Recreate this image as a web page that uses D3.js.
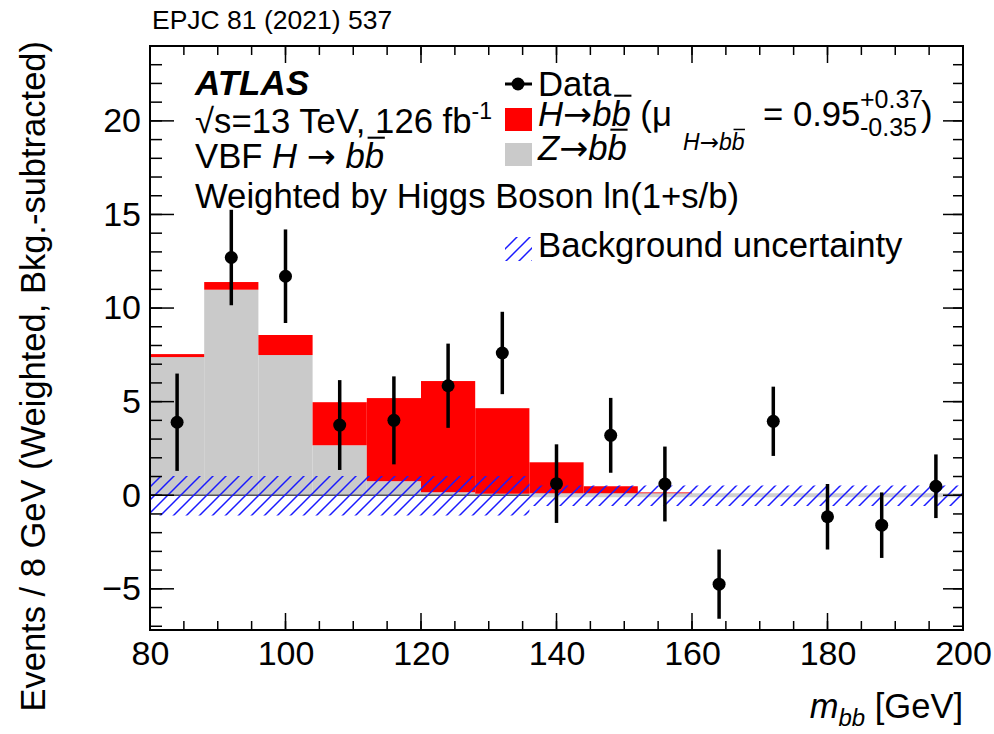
<!DOCTYPE html>
<html>
<head>
<meta charset="utf-8">
<script src="https://cdn.jsdelivr.net/npm/d3@7"></script>
<style>
  body { margin: 0; background: #fff; }
  text { font-family: "Liberation Sans", Arial, Helvetica, sans-serif; fill: #000; }
  .arrow { font-family: "DejaVu Sans", sans-serif; }
</style>
</head>
<body>
<svg id="chart" width="994" height="734"></svg>
<script>
// Binning of the m_bb distribution (8 GeV bins from 80 to 200 GeV)
const binEdges = [80, 88, 96, 104, 112, 120, 128, 136, 144, 152, 160, 168, 176, 184, 192, 200];

// Z -> bb contribution per bin (weighted events)
const zbbValues = [7.38, 10.98, 7.49, 2.67, 0.75, 0.16, 0.08, 0.05, 0.03, 0.02, 0, 0, 0, 0, 0];
// H -> bb contribution per bin, stacked on top of Z -> bb
const hbbValues = [0.16, 0.41, 1.07, 2.30, 4.44, 5.94, 4.57, 1.71, 0.45, 0.13, 0, 0, 0, 0, 0];

// Background uncertainty band (upper / lower edge per bin)
const bkgUncUp   = [1.03, 1.03, 1.03, 1.03, 1.03, 1.03, 1.03, 0.52, 0.52, 0.52, 0.52, 0.52, 0.52, 0.52, 0.52];
const bkgUncDown = [-1.08, -1.08, -1.08, -1.08, -1.08, -1.08, -1.08, -0.58, -0.58, -0.58, -0.58, -0.58, -0.58, -0.58, -0.58];

// Data (background-subtracted, weighted) with symmetric errors
const dataX   = [84, 92, 100, 108, 116, 124, 132, 140, 148, 156, 164, 172, 180, 188, 196];
const dataY   = [3.9, 12.7, 11.7, 3.75, 4.0, 5.85, 7.6, 0.62, 3.2, 0.6, -4.75, 3.95, -1.15, -1.6, 0.48];
const dataErr = [2.6, 2.55, 2.5, 2.4, 2.35, 2.25, 2.2, 2.1, 2.0, 2.0, 1.85, 1.85, 1.75, 1.75, 1.7];

// Axis ranges and ticks
const xDomain = [80, 200];
const yDomain = [-7.2, 24];
const xMajorTicks = [80, 100, 120, 140, 160, 180, 200];
const yMajorTicks = [-5, 0, 5, 10, 15, 20];

// Reference line at zero: dark part under the Z template, light part beyond
const zeroLineDark = [80, 136];
const zeroLineLight = [136, 200];

const svg = d3.select("#chart");
const plot = { left: 150, right: 963, top: 46, bottom: 630 };

const x = d3.scaleLinear().domain(xDomain).range([plot.left, plot.right]);
const y = d3.scaleLinear().domain(yDomain).range([plot.bottom, plot.top]);

const defs = svg.append("defs");
const hatch = defs.append("pattern")
  .attr("id", "hatch")
  .attr("patternUnits", "userSpaceOnUse")
  .attr("width", 13).attr("height", 13);
hatch.append("path")
  .attr("d", "M-3,3 L3,-3 M0,13 L13,0 M10,16 L16,10")
  .attr("stroke", "#1a1aff").attr("stroke-width", 1.5);

defs.append("clipPath").attr("id", "plotClip")
  .append("rect")
  .attr("x", plot.left).attr("y", plot.top)
  .attr("width", plot.right - plot.left).attr("height", plot.bottom - plot.top);

const g = svg.append("g").attr("clip-path", "url(#plotClip)");

// Build per-bin records
const bins = binEdges.slice(0, -1).map((lo, i) => ({
  lo, hi: binEdges[i + 1],
  z: zbbValues[i], h: hbbValues[i],
  up: bkgUncUp[i], down: bkgUncDown[i]
}));

// Z -> bb (grey) histogram
g.selectAll("rect.zbb").data(bins.filter(d => d.z > 0)).join("rect")
  .attr("class", "zbb")
  .attr("x", d => x(d.lo)).attr("width", d => x(d.hi) - x(d.lo))
  .attr("y", d => y(d.z)).attr("height", d => y(0) - y(d.z))
  .attr("fill", "#cacaca");

// H -> bb (red) stacked on Z -> bb
g.selectAll("rect.hbb").data(bins.filter(d => d.h > 0)).join("rect")
  .attr("class", "hbb")
  .attr("x", d => x(d.lo)).attr("width", d => x(d.hi) - x(d.lo))
  .attr("y", d => y(d.z + d.h)).attr("height", d => y(d.z) - y(d.z + d.h))
  .attr("fill", "#ff0000");

// Zero reference lines
g.append("line")
  .attr("x1", x(zeroLineLight[0])).attr("x2", x(zeroLineLight[1]))
  .attr("y1", y(0)).attr("y2", y(0))
  .attr("stroke", "#cfcfcf").attr("stroke-width", 4);
g.append("line")
  .attr("x1", x(zeroLineDark[0])).attr("x2", x(zeroLineDark[1]))
  .attr("y1", y(0)).attr("y2", y(0))
  .attr("stroke", "#555").attr("stroke-width", 1.5);

// Background uncertainty band
const bandArea = d3.area()
  .curve(d3.curveStepAfter)
  .x(d => x(d.x)).y0(d => y(d.down)).y1(d => y(d.up));
const bandPts = bins.map(d => ({ x: d.lo, up: d.up, down: d.down }));
bandPts.push({ x: binEdges[binEdges.length - 1], up: bins[bins.length - 1].up, down: bins[bins.length - 1].down });
g.append("path").datum(bandPts)
  .attr("d", bandArea)
  .attr("fill", "url(#hatch)");

// Data points with error bars
const pts = dataX.map((v, i) => ({ x: v, y: dataY[i], e: dataErr[i] }));
g.selectAll("line.err").data(pts).join("line")
  .attr("class", "err")
  .attr("x1", d => x(d.x)).attr("x2", d => x(d.x))
  .attr("y1", d => y(d.y - d.e)).attr("y2", d => y(d.y + d.e))
  .attr("stroke", "#000").attr("stroke-width", 3.5);
g.selectAll("circle.pt").data(pts).join("circle")
  .attr("class", "pt")
  .attr("cx", d => x(d.x)).attr("cy", d => y(d.y)).attr("r", 6.5)
  .attr("fill", "#000");

// Axes with inward ticks on all four sides
const tickFont = 34;
const xMinor = d3.range(80, 201, 5);
const yMinor = d3.range(-7, 25, 1);

function drawTicks(sel, vals, orient, len) {
  const horiz = orient === "b" || orient === "t";
  sel.selectAll(null).data(vals).join("line")
    .attr("x1", d => horiz ? x(d) : (orient === "l" ? plot.left : plot.right))
    .attr("x2", d => horiz ? x(d) : (orient === "l" ? plot.left + len : plot.right - len))
    .attr("y1", d => horiz ? (orient === "b" ? plot.bottom : plot.top) : y(d))
    .attr("y2", d => horiz ? (orient === "b" ? plot.bottom - len : plot.top + len) : y(d))
    .attr("stroke", "#000").attr("stroke-width", 1.5);
}
const ticks = svg.append("g");
drawTicks(ticks, xMinor, "b", 9);
drawTicks(ticks, xMajorTicks, "b", 17);
drawTicks(ticks, xMinor, "t", 9);
drawTicks(ticks, xMajorTicks, "t", 17);
drawTicks(ticks, yMinor, "l", 12);
drawTicks(ticks, yMajorTicks, "l", 24);
drawTicks(ticks, yMinor, "r", 10);
drawTicks(ticks, yMajorTicks, "r", 20);

// Tick labels via d3 axes (tick lines hidden, labels only)
const xAxis = d3.axisBottom(x).tickValues(xMajorTicks).tickSize(0).tickPadding(11).tickFormat(d3.format("d"));
svg.append("g").attr("transform", `translate(0,${plot.bottom})`).call(xAxis)
  .call(s => s.select(".domain").remove())
  .selectAll("text").attr("font-size", tickFont).attr("font-family", "Liberation Sans, Arial, sans-serif");

const yAxis = d3.axisLeft(y).tickValues(yMajorTicks).tickSize(0).tickPadding(9);
svg.append("g").attr("transform", `translate(${plot.left},0)`).call(yAxis)
  .call(s => s.select(".domain").remove())
  .selectAll("text").attr("font-size", tickFont).attr("font-family", "Liberation Sans, Arial, sans-serif");

// Frame
svg.append("rect")
  .attr("x", plot.left).attr("y", plot.top)
  .attr("width", plot.right - plot.left).attr("height", plot.bottom - plot.top)
  .attr("fill", "none").attr("stroke", "#000").attr("stroke-width", 2);

// Axis titles
svg.append("text")
  .attr("transform", `translate(45,41) rotate(-90)`)
  .attr("text-anchor", "end")
  .attr("font-size", 34.5)
  .text("Events / 8 GeV (Weighted, Bkg.-subtracted)");

const xt = svg.append("text").attr("x", plot.right).attr("y", 718)
  .attr("text-anchor", "end").attr("font-size", 34.5);
xt.append("tspan").attr("font-style", "italic").text("m");
xt.append("tspan").attr("font-style", "italic").attr("font-size", 24).attr("dy", 8).text("bb");
xt.append("tspan").attr("dy", -8).text(" [GeV]");

// Header
svg.append("text").attr("x", 152).attr("y", 29)
  .attr("font-size", 26.5)
  .attr("font-family", "Carlito, 'Liberation Sans', sans-serif")
  .text("EPJC 81 (2021) 537");

// Label block
const lx = 195, fs = 34.7;
svg.append("text").attr("x", lx).attr("y", 95)
  .attr("font-size", 35).attr("font-weight", "bold").attr("font-style", "italic")
  .text("ATLAS");
const l2 = svg.append("text").attr("x", lx).attr("y", 133).attr("font-size", fs);
l2.append("tspan").text("\u221As=13 TeV, 126 fb");
l2.append("tspan").attr("font-size", 23).attr("dy", -14).text("-1");

const l3 = svg.append("text").attr("x", lx).attr("y", 168).attr("font-size", fs);
l3.append("tspan").text("VBF ");
l3.append("tspan").attr("font-style", "italic").text("H");
l3.append("tspan").text(" ");
l3.append("tspan").attr("class", "arrow").text("\u2192");
l3.append("tspan").text(" ");
l3.append("tspan").attr("font-style", "italic").text("b");
l3.append("tspan").attr("font-style", "italic").attr("class", "barb").text("b");

svg.append("text").attr("x", lx).attr("y", 208).attr("font-size", fs)
  .text("Weighted by Higgs Boson ln(1+s/b)");

// Legend
const legX = 505, legTextX = 538;
svg.append("line").attr("x1", legX).attr("x2", legX + 27).attr("y1", 84).attr("y2", 84)
  .attr("stroke", "#000").attr("stroke-width", 3);
svg.append("circle").attr("cx", legX + 13).attr("cy", 84).attr("r", 6.5).attr("fill", "#000");
svg.append("text").attr("x", legTextX).attr("y", 96).attr("font-size", fs).text("Data");

svg.append("rect").attr("x", legX).attr("y", 108).attr("width", 27).attr("height", 23).attr("fill", "#ff0000");
const lh = svg.append("text").attr("x", legTextX).attr("y", 126).attr("font-size", fs);
lh.append("tspan").attr("font-style", "italic").text("H");
lh.append("tspan").attr("class", "arrow").text("\u2192");
lh.append("tspan").attr("font-style", "italic").text("b");
lh.append("tspan").attr("font-style", "italic").attr("class", "barb").text("b");
lh.append("tspan").text(" (\u03BC");
const lhs = svg.append("text").attr("x", 683).attr("y", 150).attr("font-size", 23);
lhs.append("tspan").attr("font-style", "italic").text("H");
lhs.append("tspan").attr("class", "arrow").text("\u2192");
lhs.append("tspan").attr("font-style", "italic").text("b");
lhs.append("tspan").attr("font-style", "italic").attr("class", "barb").text("b");
svg.append("text").attr("x", 763).attr("y", 126).attr("font-size", fs).text("= 0.95");
svg.append("text").attr("x", 860).attr("y", 108).attr("font-size", 25).text("+0.37");
svg.append("text").attr("x", 860).attr("y", 136).attr("font-size", 25).text("-0.35");
svg.append("text").attr("x", 921).attr("y", 126).attr("font-size", fs).text(")");

svg.append("rect").attr("x", legX).attr("y", 143).attr("width", 27).attr("height", 23).attr("fill", "#cacaca");
const lz = svg.append("text").attr("x", legTextX).attr("y", 160).attr("font-size", fs);
lz.append("tspan").attr("font-style", "italic").text("Z");
lz.append("tspan").attr("class", "arrow").text("\u2192");
lz.append("tspan").attr("font-style", "italic").text("b");
lz.append("tspan").attr("font-style", "italic").attr("class", "barb").text("b");

svg.append("rect").attr("x", legX).attr("y", 237).attr("width", 27).attr("height", 24).attr("fill", "url(#hatch)");
svg.append("text").attr("x", legTextX).attr("y", 257).attr("font-size", fs).text("Background uncertainty");

// Overlines above every barred "b"
svg.selectAll("tspan.barb").each(function() {
  const node = this;
  const textEl = node.parentNode;
  let start = 0;
  for (const child of textEl.childNodes) {
    if (child === node) break;
    start += child.textContent.length;
  }
  const ext = textEl.getExtentOfChar(start);
  const size = +d3.select(textEl).attr("font-size");
  svg.append("line")
    .attr("x1", ext.x + size * 0.08).attr("x2", ext.x + ext.width + size * 0.02)
    .attr("y1", ext.y + size * 0.02).attr("y2", ext.y + size * 0.02)
    .attr("stroke", "#000").attr("stroke-width", Math.max(1.5, size * 0.06));
});
</script>
</body>
</html>
